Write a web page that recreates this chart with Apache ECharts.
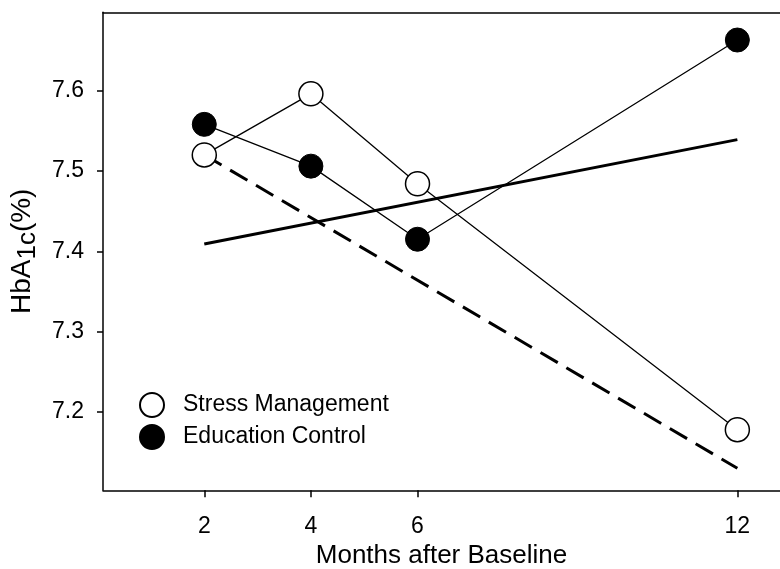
<!DOCTYPE html>
<html>
<head>
<meta charset="utf-8">
<script src="https://cdn.jsdelivr.net/npm/echarts@6/dist/echarts.min.js"></script>
<style>html,body{margin:0;padding:0;background:#fff}#c{width:780px;height:569px}</style>
</head>
<body>
<div id="c"></div>
<script>
const months = [2, 4, 6, 12];
const stressMgmt = [7.520, 7.596, 7.484, 7.178];
const eduControl = [7.558, 7.506, 7.415, 7.663];
const stressTrend = [[2, 7.520], [12, 7.130]];
const eduTrend = [[2, 7.409], [12, 7.539]];
const xTicks = [2, 4, 6, 12];
const yTicks = [7.2, 7.3, 7.4, 7.5, 7.6];

const FONT = '"Liberation Sans", Arial, sans-serif';
const chart = echarts.init(document.getElementById('c'));
const pair = (xs, ys) => xs.map((x, i) => [x, ys[i]]);

chart.setOption({
  animation: false,
  backgroundColor: '#fff',
  grid: { left: 103, right: 0, top: 12.3, bottom: 78.7, containLabel: false, outerBoundsMode: 'none' },
  legend: {
    orient: 'vertical', left: 139, top: 392, padding: 0, itemWidth: 24, itemHeight: 24, itemGap: 6,
    icon: 'circle',
    textStyle: { fontFamily: FONT, fontSize: 23, color: '#000', padding: [0, 0, 0, 14] },
    data: ['Stress Management', 'Education Control']
  },
  xAxis: [{
    type: 'value', min: 0.1, max: 12.8,
    name: 'Months after Baseline', nameLocation: 'middle', nameGap: 49,
    nameTextStyle: { fontFamily: FONT, fontSize: 26, color: '#000' },
    axisLine: { lineStyle: { color: '#000', width: 1.5 } },
    axisTick: { show: true, customValues: xTicks, length: 7, lineStyle: { color: '#000', width: 1.5 } },
    axisLabel: { customValues: xTicks, fontFamily: FONT, fontSize: 23, color: '#000', margin: 25 },
    splitLine: { show: false }
  }, {
    type: 'value', min: 0.1, max: 12.8, position: 'top',
    axisLine: { show: true, lineStyle: { color: '#000', width: 1.5 } },
    axisTick: { show: false }, axisLabel: { show: false }, splitLine: { show: false }
  }],
  yAxis: {
    type: 'value', min: 7.1025, max: 7.6975,
    name: '{a|HbA}{s|1c}{a|(%)}', nameLocation: 'middle', nameGap: 59,
    nameTextStyle: {
      fontFamily: FONT, color: '#000',
      rich: {
        a: { fontFamily: FONT, fontSize: 28, color: '#000', lineHeight: 38, verticalAlign: 'middle' },
        s: { fontFamily: FONT, fontSize: 26, color: '#000', lineHeight: 38, verticalAlign: 'bottom' }
      }
    },
    axisLine: { show: true, lineStyle: { color: '#000', width: 1.5 } },
    axisTick: { show: true, customValues: yTicks, length: 6, lineStyle: { color: '#000', width: 1.5 } },
    axisLabel: {
      customValues: yTicks, fontFamily: FONT, fontSize: 23, color: '#000', margin: 19,
      formatter: v => v.toFixed(1)
    },
    splitLine: { show: false }
  },
  series: [
    {
      name: 'stressTrend', type: 'line', data: stressTrend, symbol: 'none', z: 1,
      lineStyle: { color: '#000', width: 3, type: [20, 10] }, silent: true
    },
    {
      name: 'eduTrend', type: 'line', data: eduTrend, symbol: 'none', z: 1,
      lineStyle: { color: '#000', width: 3 }, silent: true
    },
    {
      name: 'Stress Management', type: 'line', data: pair(months, stressMgmt),
      symbol: 'circle', symbolSize: 24, z: 3,
      lineStyle: { color: '#000', width: 1.3 },
      itemStyle: { color: '#fff', borderColor: '#000', borderWidth: 1.5 }
    },
    {
      name: 'Education Control', type: 'line', data: pair(months, eduControl),
      symbol: 'circle', symbolSize: 24, z: 3,
      lineStyle: { color: '#000', width: 1.3 },
      itemStyle: { color: '#000', borderColor: '#000', borderWidth: 1 }
    }
  ]
});
</script>
</body>
</html>
